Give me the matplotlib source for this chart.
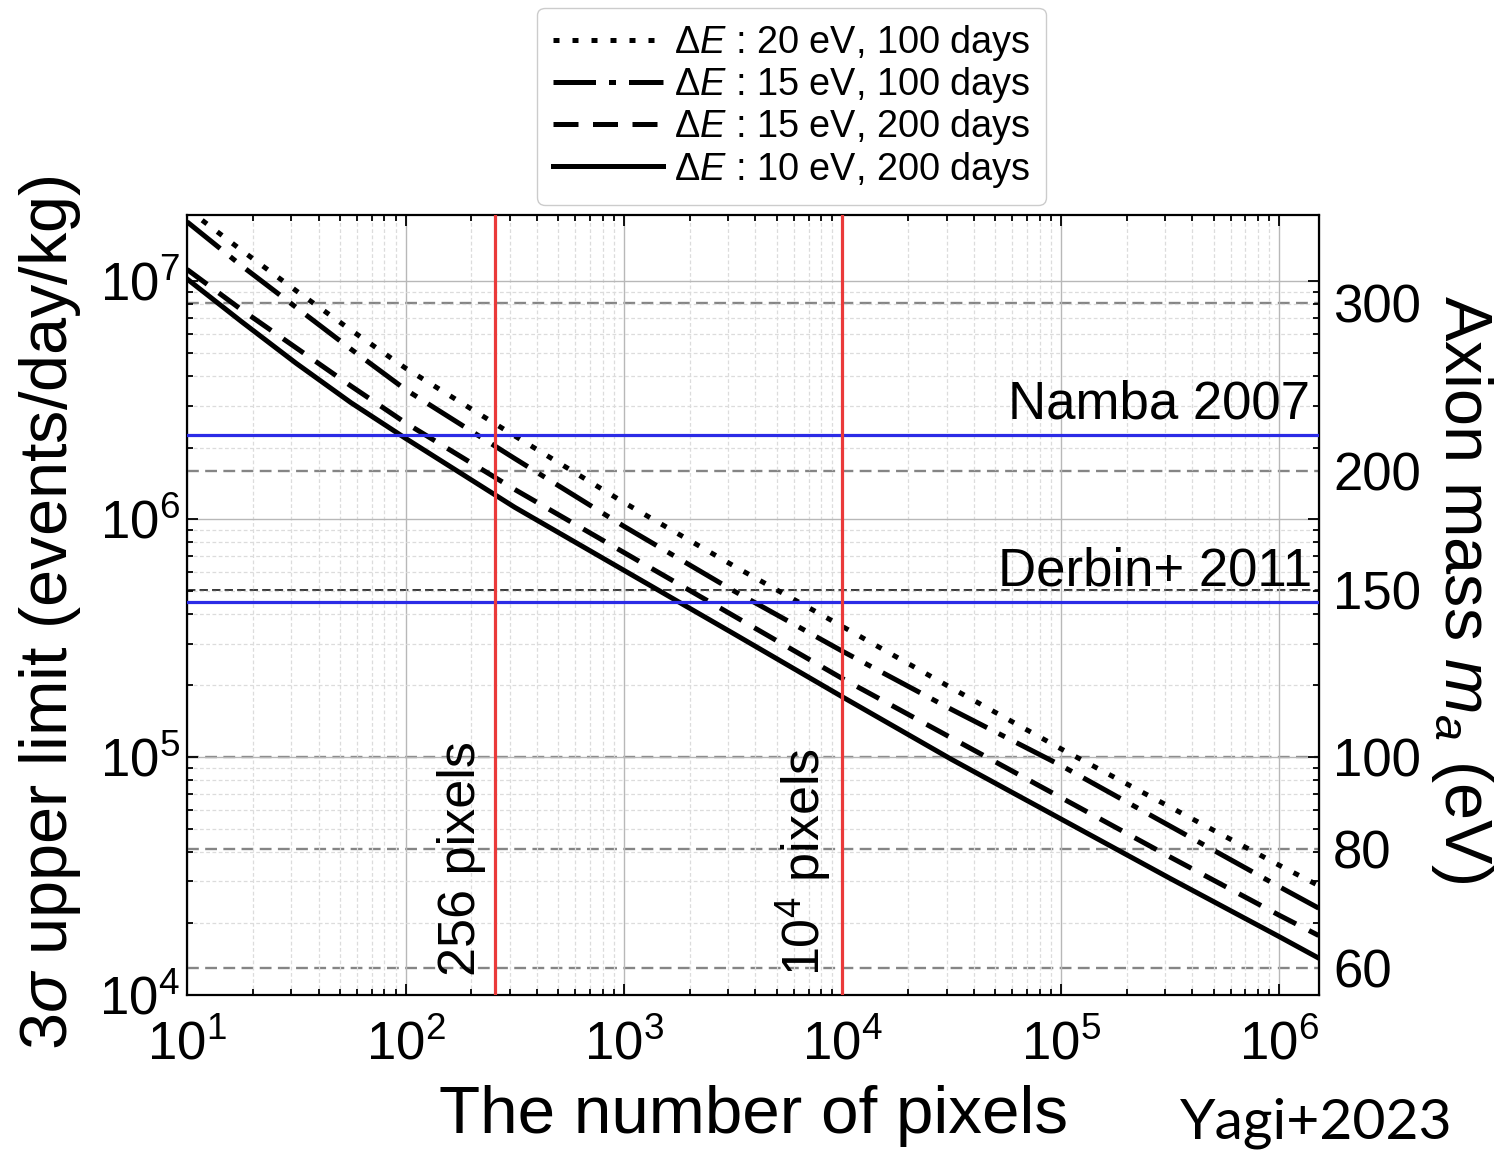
import numpy as np
import matplotlib
matplotlib.use('Agg')
import matplotlib.pyplot as plt
from matplotlib.ticker import FixedLocator, NullLocator, FuncFormatter

plt.rcParams['font.family'] = ['Liberation Sans', 'DejaVu Sans']
plt.rcParams['mathtext.fontset'] = 'custom'
plt.rcParams['mathtext.rm'] = 'Liberation Sans'
plt.rcParams['mathtext.it'] = 'Liberation Sans:italic'
plt.rcParams['mathtext.bf'] = 'Liberation Sans:bold'

# values (log10 of pixels, log10 of events/day/kg)
log_n = [1.0, 1.25, 1.5, 1.75, 2.0, 2.5, 3.0, 3.5, 4.0, 4.5, 5.0, 5.5, 6.0, 6.18]
log_lim_20ev_100d = [7.305, 7.13, 6.96, 6.795, 6.635, 6.35, 6.07, 5.805, 5.549, 5.29, 5.035, 4.79, 4.545, 4.46]
log_lim_15ev_100d = [7.25, 7.065, 6.89, 6.715, 6.545, 6.255, 5.97, 5.70, 5.445, 5.20, 4.965, 4.71, 4.455, 4.365]
log_lim_15ev_200d = [7.05, 6.88, 6.72, 6.56, 6.405, 6.125, 5.86, 5.595, 5.33, 5.08, 4.83, 4.58, 4.335, 4.25]
log_lim_10ev_200d = [7.01, 6.83, 6.655, 6.49, 6.34, 6.05, 5.785, 5.52, 5.253, 4.99, 4.74, 4.49, 4.245, 4.155]

labels = [r'$\Delta E$ : 20 eV, 100 days', r'$\Delta E$ : 15 eV, 100 days',
          r'$\Delta E$ : 15 eV, 200 days', r'$\Delta E$ : 10 eV, 200 days']

namba_limit = 2.26e6
derbin_limit = 4.47e5
pixel_marks = [256, 1e4]
mass_ticks = [60, 80, 100, 150, 200, 300]


def to_mass(r):
    r = np.maximum(np.asarray(r, dtype=float), 1e-30)
    return 100.0 * (r / 1e5) ** 0.25


def to_rate(m):
    m = np.maximum(np.asarray(m, dtype=float), 1e-30)
    return 1e5 * (m / 100.0) ** 4


fig = plt.figure(figsize=(14.94, 11.54), dpi=100)
ax = fig.add_axes([0.1252, 0.1378, 0.7577, 0.6759])
ax.set_xscale('log')
ax.set_yscale('log')
ax.set_xlim(10, 1.52e6)
ax.set_ylim(1e4, 1.9e7)

ax.grid(True, which='major', color='#b8b8b8', lw=1.0, zorder=0)
ax.grid(True, which='minor', color='#dcdcdc', lw=0.9, ls=(0, (3, 2)), zorder=0)

# dashed lines at the axion mass ticks
for m in mass_ticks:
    if m == 150:
        ax.axhline(to_rate(m), color='k', lw=1.1, ls=(0, (5.5, 2.7)), zorder=1)
    else:
        ax.axhline(to_rate(m), color='#858585', lw=1.7, ls=(0, (5, 2.7)), zorder=1)

n = 10 ** np.array(log_n)
styles = [(0, (1.2, 2.6)), (0, (8.5, 2.6, 1.4, 2.6)), (0, (5, 2.9)), '-']
series = [log_lim_20ev_100d, log_lim_15ev_100d, log_lim_15ev_200d, log_lim_10ev_200d]
for vals, ls, lab in zip(series, styles, labels):
    ax.plot(n, 10 ** np.array(vals), color='k', lw=3.6, ls=ls, label=lab, zorder=3)

ax.axhline(namba_limit, color='#2b2be6', lw=2.3, zorder=4)
ax.axhline(derbin_limit, color='#2b2be6', lw=2.3, zorder=4)
for p in pixel_marks:
    ax.axvline(p, color='#ea3a3a', lw=2.3, zorder=5)

ax.annotate('Namba 2007', xy=(1.38e6, namba_limit), xytext=(0, 4), textcoords='offset points',
            ha='right', va='bottom', fontsize=38)
ax.annotate('Derbin+ 2011', xy=(1.42e6, derbin_limit), xytext=(0, 4), textcoords='offset points',
            ha='right', va='bottom', fontsize=38)
ax.annotate('256 pixels', xy=(256, 1.2e4), xytext=(-6, 0), textcoords='offset points',
            rotation=90, ha='right', va='bottom', fontsize=37.5)
ax.annotate(r'$10^4$ pixels', xy=(1e4, 1.2e4), xytext=(-6, 0), textcoords='offset points',
            rotation=90, ha='right', va='bottom', fontsize=37.5)

ax.tick_params(which='both', direction='in', top=True, right=True, width=1.3, labelsize=38)
ax.tick_params(which='major', length=8)
ax.tick_params(which='minor', length=4)
ax.tick_params(axis='x', pad=18)
ax.tick_params(axis='y', pad=5)
for s in ax.spines.values():
    s.set_linewidth(1.6)

ax.set_xlabel('The number of pixels', fontsize=48.5, labelpad=11)
ax.set_ylabel(r'3$\sigma$ upper limit (events/day/kg)', fontsize=48)
ax.yaxis.set_label_coords(-0.092, 0.49)

secax = ax.secondary_yaxis('right', functions=(to_mass, to_rate))
secax.yaxis.set_major_locator(FixedLocator(mass_ticks))
secax.yaxis.set_major_formatter(FuncFormatter(lambda v, p: f'{v:g}'))
secax.yaxis.set_minor_locator(NullLocator())
secax.tick_params(length=0, labelsize=38, pad=10)
secax.set_ylabel(r'Axion mass $m_a$ (eV)', fontsize=48, rotation=270, va='bottom', labelpad=6)
secax.yaxis.label.set_y(0.52)

ax.legend(loc='lower center', bbox_to_anchor=(0.534, 1.013), fontsize=27.3, handlelength=2.9,
          handletextpad=0.3, labelspacing=0.06, borderpad=0.4, borderaxespad=0,
          frameon=True, fancybox=True, edgecolor='#cccccc', framealpha=1)

fig.text(0.972, 0.004, 'Yagi+2023', ha='right', va='bottom', fontsize=41,
         family=['Lato', 'DejaVu Sans'], fontweight='normal')

fig.savefig('out.png', dpi=100)
